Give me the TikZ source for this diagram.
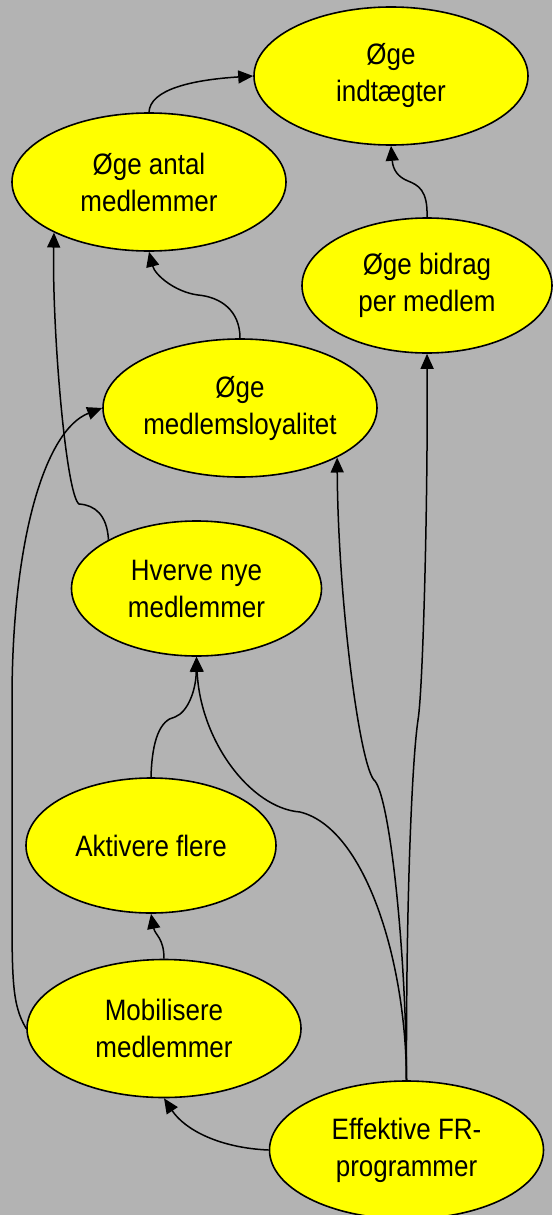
\documentclass[tikz,border=0pt]{standalone}
\usepackage{fontspec}
\setmainfont{Liberation Sans}[FakeStretch=0.88]
\usetikzlibrary{shapes.geometric}
\usetikzlibrary{arrows.meta}
\definecolor{bggray}{RGB}{179,179,179}
\definecolor{goalyellow}{RGB}{255,255,0}

\begin{document}
\begin{tikzpicture}[x=1pt, y=-1pt, >={Triangle[length=15pt, width=13pt]},
    goal/.style={ellipse, draw=black, line width=1.6pt, fill=goalyellow, inner sep=0pt,
        align=center, font=\fontsize{29.5}{37}\selectfont},
    big/.style={minimum width=274pt, minimum height=138pt},
    small/.style={minimum width=250pt, minimum height=135pt},
    link/.style={->, line width=1.5pt}]
    % =========================
    \fill[bggray] (0,0) rectangle (552,1215);
    \useasboundingbox (0,0) rectangle (552,1215);

    % ===============================
    \node[goal, big]   (indt)   at (391,76)     {Øge\\indtægter};
    \node[goal, big]   (antal)  at (149,182)    {Øge antal\\medlemmer};
    \node[goal, small] (bidrag) at (427,285.5)  {Øge bidrag\\per medlem};
    \node[goal, big]   (loyal)  at (240,408)    {Øge\\medlemsloyalitet};
    \node[goal, small] (hverve) at (196.5,588.5) {Hverve nye\\medlemmer};
    \node[goal, small] (aktiv)  at (151,845.5)  {Aktivere flere};
    \node[goal, big]   (mobil)  at (164,1028.5) {Mobilisere\\medlemmer};
    \node[goal, big]   (effekt) at (406.5,1150) {Effektive FR-\\programmer};

    % ===============================
    \draw[link] (antal.north) .. controls (150,90) and (190,80) .. (indt.west);
    \draw[link] (bidrag.north) .. controls (428,190) and (418,185) .. (408,181)
        .. controls (398,177) and (393,170) .. (indt.south);
    \draw[link] (loyal.north) .. controls (240,310) and (220,297) .. (198,295)
        .. controls (175,292) and (155,275) .. (antal.south);
    \draw[link] (hverve.151) .. controls (107,515) and (95,505) .. (79,504)
        .. controls (66,495) and (52,330) .. (antal.208);
    \draw[link] (mobil.west) .. controls (12,1005) and (12,980) .. (12,900) -- (12,700)
        .. controls (12,540) and (45,430) .. (loyal.west);
    \draw[link] (aktiv.north) .. controls (152,740) and (160,720) .. (175,717)
        .. controls (188,712) and (196,690) .. (hverve.south);
    \draw[link] (mobil.north) .. controls (164,938) and (155,935) .. (aktiv.south);
    \draw[link] (effekt.west) .. controls (220,1148) and (185,1130) .. (mobil.south);

    % from the FR-programmes up
    \draw[link] (effekt.north) .. controls (406,960) and (365,828) .. (300,812)
        .. controls (250,808) and (200,740) .. (hverve.south);
    \draw[link] (effekt.north) .. controls (406,950) and (390,800) .. (375,781)
        .. controls (360,770) and (338,600) .. (loyal.333);
    \draw[link] (effekt.north) .. controls (406,900) and (412,760) .. (418,720)
        .. controls (423,690) and (428,500) .. (bidrag.south);
\end{tikzpicture}
\end{document}
